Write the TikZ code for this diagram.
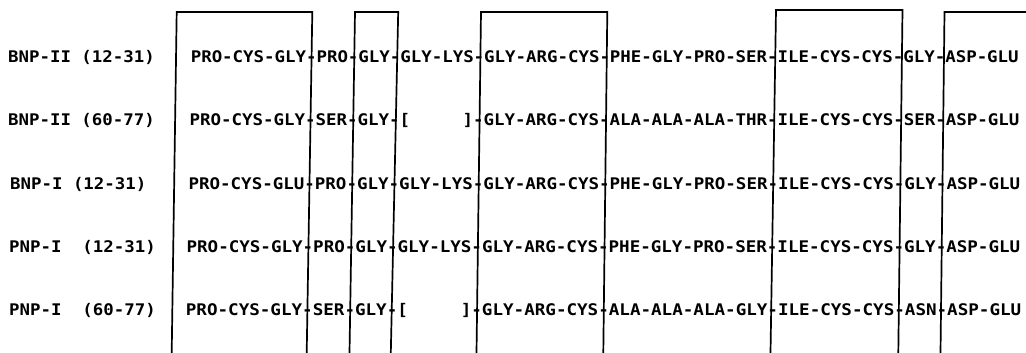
\documentclass[tikz,border=0pt]{standalone}
\usepackage{graphicx}
\usepackage{fontspec}
\newfontfamily\tw[FakeStretch=1.087]{DejaVu Sans Mono}
\begin{document}
\begin{tikzpicture}[x=1pt,y=-1pt,
  seq/.style={anchor=base west, inner sep=0pt, font=\tw\bfseries\fontsize{16}{18}\selectfont},
  rule/.style={line width=1.7pt, line join=miter, line cap=butt}]
\useasboundingbox (0,0) rectangle (1026,353);
% row labels
\node[seq] (lab1) at (8,62.5)   {BNP-II (12-31)};
\node[seq] (lab2) at (8,125.8)  {BNP-II (60-77)};
\node[seq] (lab3) at (10,189.1) {BNP-I (12-31)};
\node[seq] (lab4) at (9,252.4)  {PNP-I\ \ (12-31)};
\node[seq] (lab5) at (9,315.8)  {PNP-I\ \ (60-77)};
% sequences
\node[seq] (s1) at (190.6,62.5)  {\scalebox{1.0009}[1]{PRO-CYS-GLY-PRO-GLY-GLY-LYS-GLY-ARG-CYS-PHE-GLY-PRO-SER-ILE-CYS-CYS-GLY-ASP-GLU}};
\node[seq] (s2) at (189.3,125.8) {\scalebox{1.0032}[1]{PRO-CYS-GLY-SER-GLY-[\ \ \ \ \ ]-GLY-ARG-CYS-ALA-ALA-ALA-THR-ILE-CYS-CYS-SER-ASP-GLU}};
\node[seq] (s3) at (188.4,189.1) {\scalebox{1.0054}[1]{PRO-CYS-GLU-PRO-GLY-GLY-LYS-GLY-ARG-CYS-PHE-GLY-PRO-SER-ILE-CYS-CYS-GLY-ASP-GLU}};
\node[seq] (s4) at (186.4,252.4) {\scalebox{1.0078}[1]{PRO-CYS-GLY-PRO-GLY-GLY-LYS-GLY-ARG-CYS-PHE-GLY-PRO-SER-ILE-CYS-CYS-GLY-ASP-GLU}};
\node[seq] (s5) at (185.7,315.8) {\scalebox{1.0099}[1]{PRO-CYS-GLY-SER-GLY-[\ \ \ \ \ ]-GLY-ARG-CYS-ALA-ALA-ALA-GLY-ILE-CYS-CYS-ASN-ASP-GLU}};
% box corners
\coordinate (b1l) at (171.7,353); \coordinate (t1l) at (176.7,12);
\coordinate (t1r) at (312.3,12);  \coordinate (b1r) at (306.7,353);
\coordinate (b2l) at (349.5,353); \coordinate (t2l) at (355,12);
\coordinate (t2r) at (398.2,12);  \coordinate (b2r) at (390.8,353);
\coordinate (b3l) at (476.5,353); \coordinate (t3l) at (481,12);
\coordinate (t3r) at (607.3,12);  \coordinate (b3r) at (603.3,353);
\coordinate (b4l) at (770.5,353); \coordinate (t4l) at (776,10);
\coordinate (t4r) at (902.5,10);  \coordinate (b4r) at (898.3,353);
\coordinate (b5l) at (940.5,353); \coordinate (t5l) at (944.5,12);
\coordinate (t5r) at (1026,12);
\draw[rule] (b1l) -- (t1l) -- (t1r) -- (b1r);
\draw[rule] (b2l) -- (t2l) -- (t2r) -- (b2r);
\draw[rule] (b3l) -- (t3l) -- (t3r) -- (b3r);
\draw[rule] (b4l) -- (t4l) -- (t4r) -- (b4r);
\draw[rule] (b5l) -- (t5l) -- (t5r);
\end{tikzpicture}
\end{document}
